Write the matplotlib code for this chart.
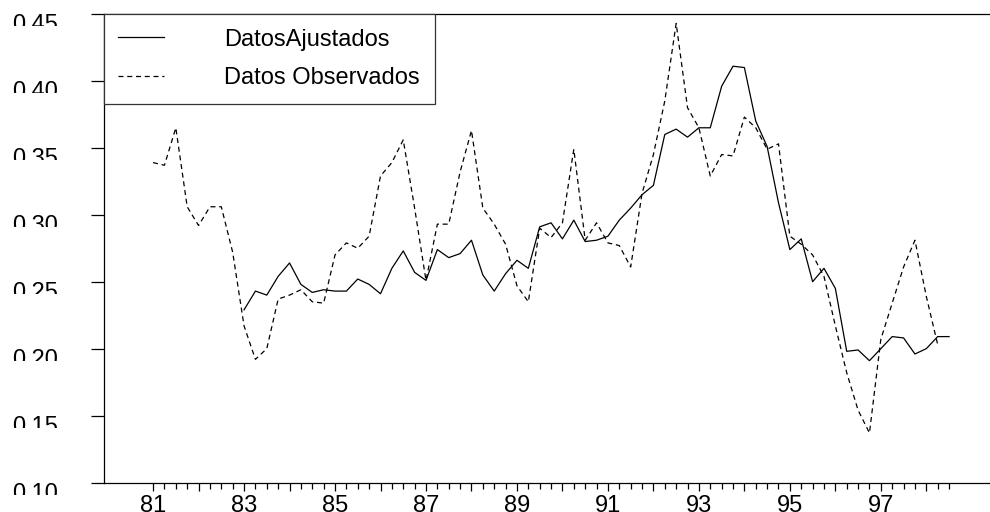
import numpy as np
import matplotlib
matplotlib.use("Agg")
import matplotlib.pyplot as plt
from matplotlib.ticker import FixedLocator, FixedFormatter
from matplotlib.transforms import Bbox

plt.rcParams['font.family'] = ['Liberation Sans', 'DejaVu Sans']

# datos trimestrales
obs_start = 81.0
observados = [0.339, 0.337, 0.365, 0.306, 0.292, 0.306, 0.306, 0.272,
              0.217, 0.192, 0.200, 0.237, 0.240, 0.244, 0.235, 0.234,
              0.270, 0.279, 0.275, 0.284, 0.329, 0.339, 0.356, 0.305,
              0.251, 0.293, 0.293, 0.332, 0.363, 0.305, 0.293, 0.278,
              0.247, 0.235, 0.290, 0.283, 0.294, 0.349, 0.281, 0.294,
              0.279, 0.277, 0.261, 0.316, 0.345, 0.385, 0.443, 0.380,
              0.365, 0.329, 0.345, 0.344, 0.373, 0.365, 0.349, 0.353,
              0.284, 0.278, 0.270, 0.254, 0.217, 0.182, 0.154, 0.137,
              0.207, 0.234, 0.261, 0.281, 0.239, 0.203]

aju_start = 83.0
ajustados = [0.229, 0.243, 0.240, 0.254, 0.264, 0.248, 0.242, 0.244,
             0.243, 0.243, 0.252, 0.248, 0.241, 0.260, 0.273, 0.257,
             0.251, 0.274, 0.268, 0.271, 0.281, 0.255, 0.243, 0.256,
             0.266, 0.260, 0.291, 0.294, 0.282, 0.296, 0.280, 0.281,
             0.284, 0.296, 0.305, 0.315, 0.322, 0.360, 0.364, 0.358,
             0.365, 0.365, 0.396, 0.411, 0.410, 0.370, 0.351, 0.309,
             0.274, 0.282, 0.250, 0.260, 0.245, 0.198, 0.199, 0.191,
             0.200, 0.209, 0.208, 0.196, 0.200, 0.209, 0.209]

x_obs = obs_start + 0.25 * np.arange(len(observados))
x_aju = aju_start + 0.25 * np.arange(len(ajustados))

anios_etiqueta = [81, 83, 85, 87, 89, 91, 93, 95, 97]
y_ticks = [0.10, 0.15, 0.20, 0.25, 0.30, 0.35, 0.40, 0.45]

fig = plt.figure(figsize=(9.9, 5.12), dpi=100)
ax = fig.add_axes([103.5 / 990, 1 - 482.5 / 512, 1 - 103.5 / 990, 468.5 / 512])

ax.plot(x_aju, ajustados, color='black', lw=0.9, label='DatosAjustados')
ax.plot(x_obs, observados, color='black', lw=0.9, dashes=(4, 3),
        label='Datos Observados')

ax.set_xlim(79.91, 99.40)
ax.set_ylim(0.10, 0.45)

# ticks eje x: mayores cada año, menores cada trimestre
anios = np.arange(81, 99)
ax.xaxis.set_major_locator(FixedLocator(anios))
ax.xaxis.set_major_formatter(FixedFormatter(
    [str(a) if a in anios_etiqueta else '' for a in anios]))
ax.xaxis.set_minor_locator(FixedLocator(np.arange(81, 98.51, 0.25)))
ax.tick_params(axis='x', which='major', length=5.8, width=0.9, pad=3.5,
               labelsize=17, direction='out')
ax.tick_params(axis='x', which='minor', length=4, width=0.9, direction='out')

ax.yaxis.set_major_locator(FixedLocator(y_ticks))
ax.yaxis.set_major_formatter(FixedFormatter(['%.2f' % v for v in y_ticks]))
ax.tick_params(axis='y', which='major', length=9.4, width=0.9, pad=23.5,
               labelsize=17, direction='out')
for lab in ax.get_yticklabels():
    lab.set_va('top')

ax.spines['right'].set_visible(False)
for s in ['left', 'top', 'bottom']:
    ax.spines[s].set_linewidth(0.9)

leg = ax.legend(loc='upper left', bbox_to_anchor=(0, 1), borderaxespad=0,
                fontsize=17, handlelength=1.95, handletextpad=2.55,
                borderpad=0.62, labelspacing=0.7, fancybox=False,
                framealpha=1)
leg.get_frame().set_edgecolor('#333333')
leg.get_frame().set_linewidth(0.9)

# recorte de las etiquetas del eje y como en el original
fig.canvas.draw()
for t in ax.yaxis.get_major_ticks():
    yd = ax.transData.transform((80, t.get_loc()))[1]
    t.label1.set_clip_on(True)
    t.label1.set_clip_box(Bbox.from_extents(0, yd - 12, 100, yd + 2))

fig.savefig('out.png', dpi=100)
